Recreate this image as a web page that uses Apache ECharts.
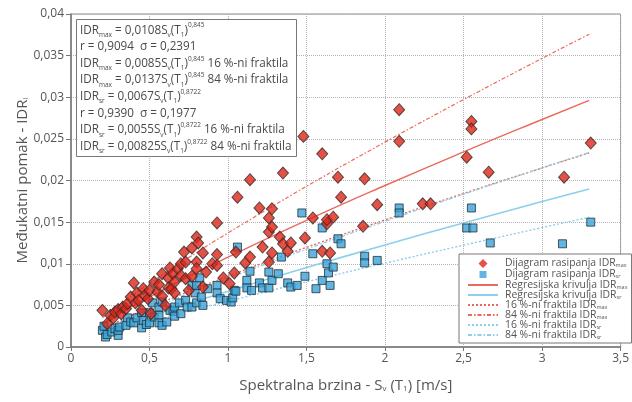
<!DOCTYPE html>
<html>
<head>
<meta charset="utf-8">
<script src="https://cdn.jsdelivr.net/npm/echarts@6/dist/echarts.min.js"></script>
<style>
html, body { margin: 0; padding: 0; background: #fff; }
#main { width: 632px; height: 402px; }
</style>
</head>
<body>
<div id="main"></div>
<script>
// rasipanje IDR_max (x = Sv(T1) [m/s], y = IDR)
var idrMax = [
    [0.20,0.0044],[0.23,0.0028],[0.25,0.0038],[0.27,0.0035],[0.28,0.0042],[0.30,0.0045],[0.32,0.0040],
    [0.33,0.0048],[0.35,0.0046],[0.36,0.0052],[0.38,0.0060],[0.40,0.0077],[0.41,0.0053],[0.42,0.0065],
    [0.43,0.0056],[0.45,0.0044],[0.46,0.0070],[0.47,0.0062],[0.49,0.0058],[0.50,0.0068],[0.51,0.0040],
    [0.53,0.0078],[0.55,0.0066],[0.56,0.0075],[0.58,0.0088],[0.58,0.0061],[0.60,0.0050],[0.62,0.0083],
    [0.62,0.0071],[0.63,0.0095],[0.64,0.0070],[0.65,0.0088],[0.66,0.0078],[0.66,0.0065],[0.68,0.0094],
    [0.70,0.0086],[0.70,0.0100],[0.72,0.0114],[0.73,0.0102],[0.73,0.0082],[0.75,0.0068],[0.77,0.0119],
    [0.77,0.0085],[0.80,0.0132],[0.80,0.0102],[0.80,0.0094],[0.81,0.0125],[0.84,0.0113],[0.84,0.0072],
    [0.86,0.0090],[0.90,0.0100],[0.93,0.0149],[0.93,0.0111],[0.93,0.0098],[0.97,0.0083],[1.01,0.0076],
    [1.04,0.0089],[1.05,0.0114],[1.06,0.0180],[1.11,0.0101],[1.14,0.0201],[1.14,0.0108],[1.20,0.0167],
    [1.22,0.0120],[1.26,0.0155],[1.26,0.0138],[1.26,0.0102],[1.28,0.0166],[1.28,0.0144],[1.28,0.0113],
    [1.33,0.0132],[1.35,0.0209],[1.35,0.0124],[1.38,0.0115],[1.40,0.0125],[1.48,0.0253],[1.49,0.0131],
    [1.54,0.0155],[1.60,0.0232],[1.60,0.0115],[1.63,0.0148],[1.63,0.0153],[1.67,0.0156],[1.65,0.0113],
    [1.70,0.0204],[1.72,0.0180],[1.86,0.0145],[1.87,0.0202],[1.95,0.0171],[2.09,0.0285],[2.09,0.0247],
    [2.24,0.0172],[2.29,0.0172],[2.52,0.0228],[2.55,0.0271],[2.55,0.0262],[2.66,0.0210],[3.14,0.0204],
    [3.31,0.0245]
];
// rasipanje IDR_sr
var idrSr = [
    [0.20,0.0020],[0.21,0.0025],[0.22,0.0012],[0.23,0.0015],[0.26,0.0018],[0.28,0.0022],[0.30,0.0014],
    [0.30,0.0020],[0.31,0.0024],[0.35,0.0026],[0.36,0.0035],[0.38,0.0030],[0.40,0.0029],[0.42,0.0035],
    [0.45,0.0023],[0.45,0.0041],[0.46,0.0032],[0.48,0.0027],[0.50,0.0029],[0.50,0.0041],[0.52,0.0053],
    [0.53,0.0036],[0.56,0.0038],[0.56,0.0029],[0.56,0.0048],[0.58,0.0054],[0.58,0.0026],[0.61,0.0030],
    [0.63,0.0044],[0.65,0.0043],[0.66,0.0037],[0.66,0.0048],[0.69,0.0053],[0.70,0.0040],[0.73,0.0056],
    [0.74,0.0048],[0.77,0.0074],[0.77,0.0048],[0.79,0.0065],[0.80,0.0074],[0.80,0.0053],[0.82,0.0083],
    [0.83,0.0060],[0.84,0.0050],[0.87,0.0070],[0.93,0.0074],[0.93,0.0065],[0.95,0.0058],[0.99,0.0056],
    [1.02,0.0054],[1.03,0.0059],[1.04,0.0068],[1.05,0.0067],[1.06,0.0120],[1.12,0.0080],[1.12,0.0071],
    [1.14,0.0091],[1.15,0.0068],[1.20,0.0077],[1.22,0.0071],[1.26,0.0090],[1.26,0.0071],[1.28,0.0080],
    [1.32,0.0088],[1.34,0.0108],[1.38,0.0077],[1.40,0.0072],[1.44,0.0074],[1.47,0.0161],[1.49,0.0085],
    [1.54,0.0112],[1.56,0.0070],[1.60,0.0143],[1.60,0.0080],[1.63,0.0100],[1.64,0.0089],[1.65,0.0074],
    [1.67,0.0096],[1.70,0.0130],[1.72,0.0124],[1.87,0.0109],[1.87,0.0101],[1.95,0.0104],[2.09,0.0167],
    [2.09,0.0161],[2.52,0.0143],[2.56,0.0143],[2.55,0.0167],[2.67,0.0125],[3.13,0.0124],[3.31,0.0150]
];

// krivulje ocitane sa slike
var curveX   = [0.2, 0.3, 0.5, 0.75, 1, 1.5, 2, 2.5, 3, 3.3];
var regMax   = [0.00277, 0.00390, 0.00601, 0.00847, 0.0108, 0.01521, 0.01940, 0.02343, 0.02733, 0.02962];
var max16    = [0.00218, 0.00307, 0.00473, 0.00667, 0.0085, 0.01197, 0.01527, 0.01844, 0.02151, 0.02331];
var max84    = [0.00352, 0.00495, 0.00763, 0.01074, 0.0137, 0.01930, 0.02461, 0.02972, 0.03467, 0.03757];
var regSr    = [0.00165, 0.00234, 0.00366, 0.00521, 0.0067, 0.00954, 0.01226, 0.01490, 0.01747, 0.01898];
var sr16     = [0.00135, 0.00192, 0.00300, 0.00428, 0.0055, 0.00783, 0.01007, 0.01223, 0.01434, 0.01558];
var sr84     = [0.00203, 0.00289, 0.00451, 0.00642, 0.00825, 0.01175, 0.01510, 0.01835, 0.02151, 0.02337];

var legendNames = [
    'Dijagram rasipanja IDR{s|max}',
    'Dijagram rasipanja IDR{s|sr}',
    'Regresijska krivulja IDR{s|max}',
    'Regresijska krivulja IDR{s|sr}',
    '16 %-ni fraktila IDR{s|max}',
    '84 %-ni fraktila IDR{s|max}',
    '16 %-ni fraktila IDR{s|sr}',
    '84 %-ni fraktila IDR{s|sr}'
];

var boxLines = [
    '{n|IDR}{s|max}{n| = 0,0108S}{s|v}{n|(T}{s|1}{n|)}{p|0,845}',
    '{n|r = 0,9094  σ = 0,2391}',
    '{n|IDR}{s|max}{n| = 0,0085S}{s|v}{n|(T}{s|1}{n|)}{p|0,845}{n| 16 %-ni fraktila}',
    '{n|IDR}{s|max}{n| = 0,0137S}{s|v}{n|(T}{s|1}{n|)}{p|0,845}{n| 84 %-ni fraktila}',
    '{n|IDR}{s|sr}{n| = 0,0067S}{s|v}{n|(T}{s|1}{n|)}{p|0,8722}',
    '{n|r = 0,9390  σ = 0,1977}',
    '{n|IDR}{s|sr}{n| = 0,0055S}{s|v}{n|(T}{s|1}{n|)}{p|0,8722}{n| 16 %-ni fraktila}',
    '{n|IDR}{s|sr}{n| = 0,00825S}{s|v}{n|(T}{s|1}{n|)}{p|0,8722}{n| 84 %-ni fraktila}'
];

var red = '#dc2519';
var blue = '#3aa3d8';
var redLine = '#ec6a5c';
var blueLine = '#8ccfee';
var txt = '#4a4a4a';
var fontFam = '"Open Sans", "Noto Sans", sans-serif';

// ikone legende: okvir 30x11 (nevidljiv), oblik u sredini
var diamondIcon = 'path://M0,0H30V0.01H0Z M15,1L19.5,5.5L15,10L10.5,5.5Z M0,10.99H30V11H0Z';
var squareIcon = 'path://M0,0H30V0.01H0Z M11.5,2H18.5V9H11.5Z M0,10.99H30V11H0Z';

function pairs(ys) {
    var res = [];
    for (var i = 0; i < curveX.length; i++) {
        res.push([curveX[i], ys[i]]);
    }
    return res;
}
function comma(v) {
    return String(v).replace('.', ',');
}
function lineSeries(idx, ys, color, type, width) {
    return {
        name: legendNames[idx],
        type: 'line',
        data: pairs(ys),
        smooth: true,
        symbol: 'none',
        silent: true,
        lineStyle: { color: color, width: width, type: type },
        itemStyle: { color: color },
        z: 1
    };
}

var legendData = [];
for (var i = 0; i < legendNames.length; i++) {
    if (i === 0) {
        legendData.push({ name: legendNames[i], icon: diamondIcon, itemStyle: { color: red, borderWidth: 0 } });
    } else if (i === 1) {
        legendData.push({ name: legendNames[i], icon: squareIcon, itemStyle: { color: blue, borderWidth: 0 } });
    } else {
        legendData.push({ name: legendNames[i], itemStyle: { opacity: 0 } });
    }
}

var myChart = echarts.init(document.getElementById('main'));
var option = {
    animation: false,
    backgroundColor: '#fff',
    textStyle: { fontFamily: fontFam },
    grid: {
        left: 71, top: 14, width: 550, height: 333,
        show: true, borderColor: '#8a8a8a', borderWidth: 1
    },
    title: {
        text: boxLines.join('\n'),
        left: 76, top: 19,
        padding: [3, 5, 2, 4],
        borderColor: '#777', borderWidth: 1,
        backgroundColor: '#fff',
        textStyle: {
            fontFamily: fontFam,
            fontSize: 11.7,
            fontWeight: 'normal',
            lineHeight: 16.6,
            color: txt,
            rich: {
                n: { fontSize: 11.7, fontWeight: 'normal', color: txt, lineHeight: 16.6 },
                s: { fontSize: 6.5, fontWeight: 'normal', color: txt, verticalAlign: 'bottom', lineHeight: 7 },
                p: { fontSize: 6.5, fontWeight: 'normal', color: txt, verticalAlign: 'top', lineHeight: 8 }
            }
        }
    },
    legend: {
        orient: 'vertical',
        left: 459, top: 254,
        width: 168,
        padding: [4, 4, 3, 8],
        itemGap: 0,
        itemWidth: 30,
        itemHeight: 11,
        borderColor: '#777', borderWidth: 1,
        backgroundColor: '#fff',
        data: legendData,
        textStyle: {
            fontSize: 10.4, color: '#555', padding: [0, 0, 0, 2],
            rich: {
                s: { fontSize: 5.5, color: '#555', verticalAlign: 'bottom', lineHeight: 9 }
            }
        }
    },
    xAxis: {
        type: 'value',
        min: 0, max: 3.5, interval: 0.5,
        name: 'Spektralna brzina - S{s|v} (T{s|1}) [m/s]',
        nameLocation: 'middle',
        nameGap: 31,
        nameTextStyle: {
            fontSize: 15, color: '#555',
            rich: { s: { fontSize: 8, color: '#555', verticalAlign: 'bottom', lineHeight: 12 } }
        },
        axisLine: { lineStyle: { color: '#777', width: 1.5 } },
        axisTick: { show: true, inside: false, length: 4, lineStyle: { color: '#777' } },
        axisLabel: { fontSize: 12, color: '#555', margin: 6, formatter: comma },
        splitLine: { show: true, lineStyle: { color: '#b5b5b5', type: 'dotted', width: 1 } }
    },
    yAxis: {
        type: 'value',
        min: 0, max: 0.04, interval: 0.005,
        name: 'Međukatni pomak - IDR{s|i}',
        nameLocation: 'middle',
        nameGap: 41,
        nameMoveOverlap: false,
        nameTextStyle: {
            fontSize: 15, color: '#555',
            rich: { s: { fontSize: 8, color: '#555', verticalAlign: 'bottom', lineHeight: 12 } }
        },
        axisLine: { show: true, lineStyle: { color: '#777', width: 1.5 } },
        axisTick: { show: true, inside: false, length: 5, lineStyle: { color: '#777' } },
        axisLabel: { fontSize: 12, color: '#555', margin: 7, formatter: comma },
        splitLine: { show: true, lineStyle: { color: '#b5b5b5', type: 'dotted', width: 1 } }
    },
    series: [
        {
            name: legendNames[0],
            type: 'scatter',
            data: idrMax,
            symbol: 'diamond',
            symbolSize: [11, 12],
            itemStyle: { color: red, borderColor: '#3a2a28', borderWidth: 1 },
            z: 3
        },
        {
            name: legendNames[1],
            type: 'scatter',
            data: idrSr,
            symbol: 'rect',
            symbolSize: 8,
            itemStyle: { color: blue, borderColor: '#23323a', borderWidth: 1 },
            z: 2
        },
        lineSeries(2, regMax, redLine, 'solid', 1.4),
        lineSeries(3, regSr, blueLine, 'solid', 1.6),
        lineSeries(4, max16, redLine, [2, 2], 1.4),
        lineSeries(5, max84, redLine, [4, 2, 1.5, 2], 1.2),
        lineSeries(6, sr16, blueLine, [2, 2], 1.4),
        lineSeries(7, sr84, blueLine, [4, 2, 1.5, 2], 1.3)
    ]
};
myChart.setOption(option);
window.addEventListener("resize", function () {
    myChart.resize();
});
</script>
</body>
</html>
